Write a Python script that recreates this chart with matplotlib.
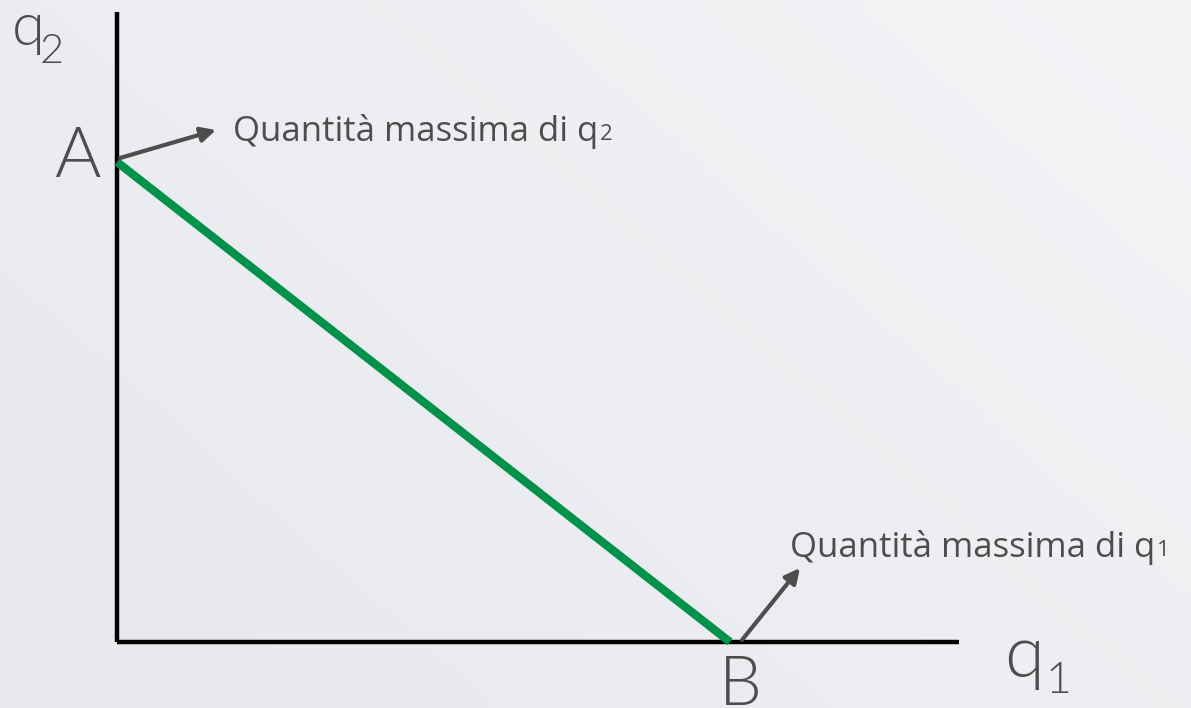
import numpy as np
import matplotlib
matplotlib.use("Agg")
import matplotlib.pyplot as plt

# vincolo di bilancio: intercette sugli assi
budget_q1 = [0, 10]   # A -> B
budget_q2 = [10, 0]
asse_q1_max = 13.74
asse_q2_max = 13.13

etichetta_A = "Quantità massima di q"
etichetta_B = "Quantità massima di q"

# scala in pixel per unità (figura a 100 dpi)
ox, oy = 117, 642
sx, sy = 61.3, 48.0
W, H = 1191, 708

def px(x, y):
    return (x - ox) / sx, (oy - y) / sy

plt.rcParams['font.family'] = ['Lato', 'DejaVu Sans']
grigio = '#4d4d4d'
titolo = dict(family='Lato', fontweight=300, color=grigio)
dida = dict(family='Open Sans', color=grigio)

fig = plt.figure(figsize=(W / 100, H / 100), dpi=100)
fig.patch.set_facecolor('#eef0f3')
ax = fig.add_axes([0, 0, 1, 1])
ax.set_xlim(px(0, 0)[0], px(W, 0)[0])
ax.set_ylim(px(0, H)[1], px(0, 0)[1])
ax.axis('off')

# sfondo con leggero gradiente
gx = np.linspace(0, 1, 200)
gy = np.linspace(0, 1, 120)
GX, GY = np.meshgrid(gx, gy)
grad = 0.6 * GX + 0.4 * (1 - GY)
ax.imshow(grad, extent=(*ax.get_xlim(), *ax.get_ylim()), aspect='auto',
          cmap=matplotlib.colors.LinearSegmentedColormap.from_list('bg', ['#e6e8ec', '#f3f4f6']),
          zorder=0, origin='upper')

# assi
ax.plot([0, 0], [0, asse_q2_max], color='black', lw=3.2, solid_capstyle='butt', zorder=2)
ax.plot([0, asse_q1_max], [0, 0], color='black', lw=3.2, solid_capstyle='butt', zorder=2)

# retta di bilancio
ax.plot(budget_q1, budget_q2, color='#00924a', lw=6, solid_capstyle='butt', zorder=3)

# lettere grandi
ax.text(*px(77, 177), 'A', fontsize=51, ha='center', va='baseline', **titolo)
ax.text(*px(740, 705), 'B', fontsize=49, ha='center', va='baseline', **titolo)
ax.text(*px(12, 45), 'q', fontsize=43, ha='left', va='baseline', **titolo)
ax.text(*px(40, 63), '2', fontsize=30, ha='left', va='baseline', **titolo)
ax.text(*px(1004, 677), 'q', fontsize=52, ha='left', va='baseline', **titolo)
ax.text(*px(1045, 693), '1', fontsize=32, ha='left', va='baseline', **titolo)

# frecce e didascalie
freccia = dict(arrowstyle='-|>', color=grigio, lw=3, mutation_scale=22,
               shrinkA=0, shrinkB=0)
ax.annotate('', xy=px(216, 130), xytext=px(120, 158), arrowprops=freccia, zorder=4)
ax.annotate('', xy=px(800, 568), xytext=px(742, 640), arrowprops=freccia, zorder=4)

ta = ax.text(*px(233, 141), etichetta_A, fontsize=25, ha='left', va='baseline', **dida)
ax.annotate('2', xy=(1, 0), xycoords=ta, xytext=(1, 3), textcoords='offset points',
            fontsize=16, ha='left', va='bottom', **dida)
tb = ax.text(*px(790, 557), etichetta_B, fontsize=25, ha='left', va='baseline', **dida)
ax.annotate('1', xy=(1, 0), xycoords=tb, xytext=(1, 3), textcoords='offset points',
            fontsize=16, ha='left', va='bottom', **dida)

fig.savefig('out.png', dpi=100, facecolor=fig.get_facecolor())
